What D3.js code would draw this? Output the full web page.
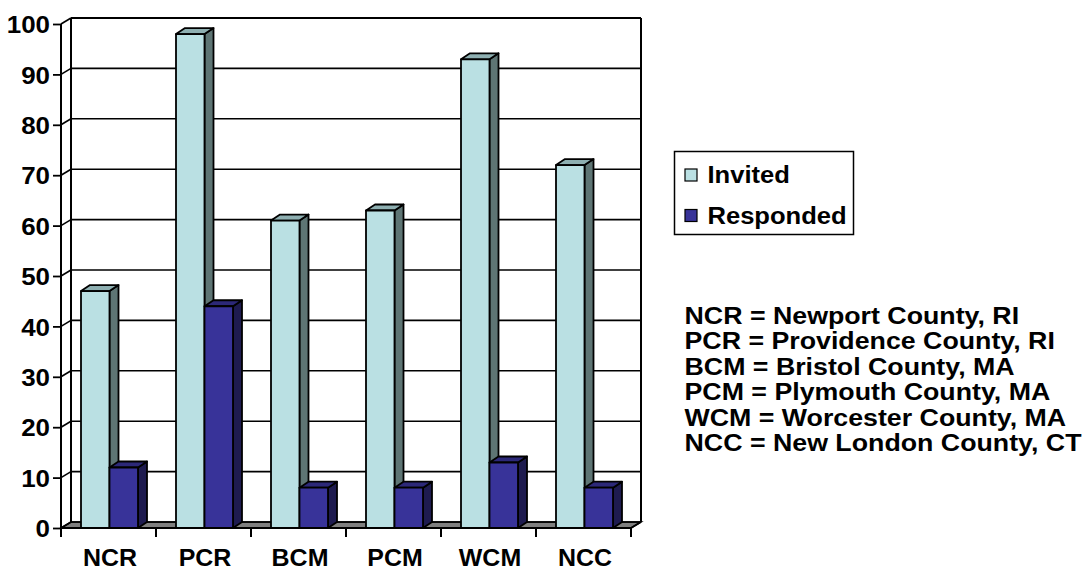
<!DOCTYPE html>
<html>
<head>
<meta charset="utf-8">
<script src="https://cdn.jsdelivr.net/npm/d3@7"></script>
<style>
  html, body { margin: 0; padding: 0; background: #fff; }
  svg { display: block; }
  text { font-family: "Liberation Sans", Arial, Helvetica, sans-serif; font-weight: bold; fill: #000; }
</style>
</head>
<body>
<svg id="chart" width="1086" height="572"></svg>
<script>
// Survey counts per county region
const categories = ["NCR", "PCR", "BCM", "PCM", "WCM", "NCC"];
const seriesNames = ["Invited", "Responded"];
const invited = [47, 98, 61, 63, 93, 72];
const responded = [12, 44, 8, 8, 13, 8];
const yTicks = [0, 10, 20, 30, 40, 50, 60, 70, 80, 90, 100];
const keyLines = [
  "NCR = Newport County, RI",
  "PCR = Providence County, RI",
  "BCM = Bristol County, MA",
  "PCM = Plymouth County, MA",
  "WCM = Worcester County, MA",
  "NCC = New London County, CT"
];

const seriesValues = [invited, responded];
const faceColors = {
  Invited:   { front: "#BAE0E3", top: "#8EAFB1", side: "#5E7574" },
  Responded: { front: "#383399", top: "#2C2878", side: "#1E1B4F" }
};

const svg = d3.select("#chart");

// Depth offsets for the 3D walls and columns
const WX = 10, WY = -6;
const BX = 9, BY = -6;

const x = d3.scaleBand().domain(categories).range([61, 631]).padding(0);
const xs = d3.scaleBand().domain(seriesNames).range([20, 77]).padding(0);
const y = d3.scaleLinear().domain([0, 100]).range([528, 24]);

const pts = p => p.map(d => d.join(",")).join(" ");
const x0 = x.range()[0], x1 = x.range()[1];

// Text placed at (px, py) and stretched horizontally by sx
function wideText(sel, sx) {
  return sel.attr("transform", d => `translate(${d.px},${d.py}) scale(${sx},1)`)
    .attr("x", 0).attr("y", 0);
}

// Floor
svg.append("polygon")
  .attr("points", pts([[x0, y(0)], [x1, y(0)], [x1 + WX, y(0) + WY], [x0 + WX, y(0) + WY]]))
  .attr("fill", "#808080").attr("stroke", "#000").attr("stroke-width", 1.5);

// Back wall gridlines and left-wall diagonals
const grid = svg.append("g");
yTicks.forEach(t => {
  grid.append("line")
    .attr("x1", x0 + WX).attr("x2", x1 + WX)
    .attr("y1", y(t) + WY).attr("y2", y(t) + WY)
    .attr("stroke", "#000").attr("stroke-width", t === 100 ? 2.2 : 1.6);
  grid.append("line")
    .attr("x1", x0).attr("x2", x0 + WX)
    .attr("y1", y(t)).attr("y2", y(t) + WY)
    .attr("stroke", "#000").attr("stroke-width", 1.6);
});
// Back wall edges
grid.append("line").attr("x1", x0 + WX).attr("x2", x0 + WX)
  .attr("y1", y(100) + WY).attr("y2", y(0) + WY).attr("stroke", "#000").attr("stroke-width", 2);
grid.append("line").attr("x1", x1 + WX).attr("x2", x1 + WX)
  .attr("y1", y(100) + WY).attr("y2", y(0) + WY).attr("stroke", "#000").attr("stroke-width", 2);
grid.append("line").attr("x1", x1).attr("x2", x1 + WX)
  .attr("y1", y(0)).attr("y2", y(0) + WY).attr("stroke", "#000").attr("stroke-width", 1.6);

// Columns
const bars = svg.append("g");
const bw = xs.bandwidth();
seriesNames.forEach((s, si) => {
  const c = faceColors[s];
  categories.forEach((cat, ci) => {
    const v = seriesValues[si][ci];
    const bx = x(cat) + xs(s);
    const top = y(v), base = y(0);
    const g = bars.append("g").attr("stroke", "#000").attr("stroke-width", 1.8).attr("stroke-linejoin", "round");
    g.append("polygon")
      .attr("points", pts([[bx + bw, top], [bx + bw + BX, top + BY], [bx + bw + BX, base + BY], [bx + bw, base]]))
      .attr("fill", c.side);
    g.append("polygon")
      .attr("points", pts([[bx, top], [bx + BX, top + BY], [bx + bw + BX, top + BY], [bx + bw, top]]))
      .attr("fill", c.top);
    g.append("rect")
      .attr("x", bx).attr("y", top).attr("width", bw).attr("height", base - top)
      .attr("fill", c.front);
  });
});

// Front value axis
const yAxis = d3.axisLeft(y).tickValues(yTicks).tickSize(8).tickPadding(3).tickFormat(d3.format("d"));
const gy = svg.append("g").attr("transform", `translate(${x0},0)`).call(yAxis);
gy.select(".domain").remove();
gy.selectAll(".tick line").attr("stroke", "#000").attr("stroke-width", 1.8);
gy.selectAll(".tick text").remove();
gy.selectAll(".tick").append("text")
  .attr("text-anchor", "end").attr("dy", "0.36em")
  .attr("transform", "translate(-11,0) scale(1.08,1)")
  .style("font-size", "24px")
  .text(d => d3.format("d")(d));

svg.append("line").attr("x1", x0).attr("x2", x0).attr("y1", y(100)).attr("y2", y(0) + 9)
  .attr("stroke", "#000").attr("stroke-width", 2);
svg.append("line").attr("x1", x0).attr("x2", x1).attr("y1", y(0)).attr("y2", y(0))
  .attr("stroke", "#000").attr("stroke-width", 2);

// Category boundary ticks
const bounds = categories.map(c => x(c)).concat([x1]);
svg.append("g").selectAll("line").data(bounds).join("line")
  .attr("x1", d => d).attr("x2", d => d).attr("y1", y(0)).attr("y2", y(0) + 9)
  .attr("stroke", "#000").attr("stroke-width", 2);

wideText(
  svg.append("g").selectAll("text")
    .data(categories.map(c => ({ label: c, px: x(c) + x.bandwidth() / 2 + 1.5, py: 566 })))
    .join("text").attr("text-anchor", "middle").style("font-size", "24px").text(d => d.label),
  1.04);

// Legend
const leg = svg.append("g");
leg.append("rect").attr("x", 674.5).attr("y", 151.5).attr("width", 179).attr("height", 83)
  .attr("fill", "#fff").attr("stroke", "#000").attr("stroke-width", 1.5);
seriesNames.forEach((s, i) => {
  const yy = 183 + i * 40.5;
  leg.append("rect").attr("x", 685).attr("y", yy - 14).attr("width", 12).attr("height", 12)
    .attr("fill", faceColors[s].front).attr("stroke", "#000").attr("stroke-width", 1.2);
});
wideText(
  leg.selectAll("text").data(seriesNames.map((s, i) => ({ label: s, px: 707.5, py: 183 + i * 40.5 })))
    .join("text").style("font-size", "24px").text(d => d.label),
  1.065);

// Abbreviation key
wideText(
  svg.append("g").selectAll("text")
    .data(keyLines.map((t, i) => ({ label: t, px: 684.5, py: 323.5 + i * 25.5 })))
    .join("text").style("font-size", "24px").text(d => d.label),
  1.115);
</script>
</body>
</html>
